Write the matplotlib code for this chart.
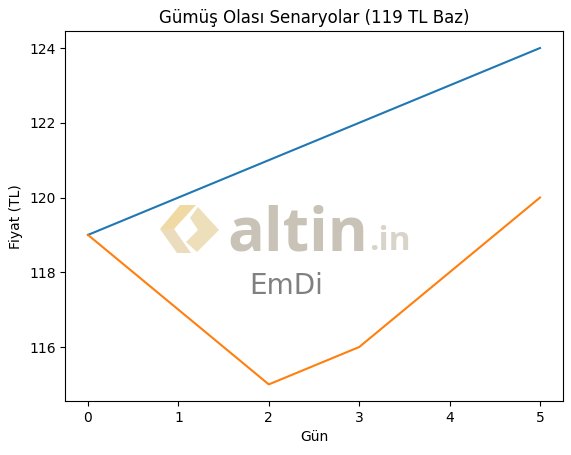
import matplotlib
matplotlib.use("Agg")
import matplotlib.pyplot as plt
from matplotlib.patches import Polygon

# Senaryo verileri
gunler = [0, 1, 2, 3, 4, 5]
yukselis = [119, 120, 121, 122, 123, 124]
dusus_toparlanma = [119, 117, 115, 116, 118, 120]

fig = plt.figure(figsize=(5.71, 4.55), dpi=100)
ax = fig.add_axes([0.1145, 0.1182, 0.8708, 0.8132])

ax.plot(gunler, yukselis)
ax.plot(gunler, dusus_toparlanma)
ax.set_title("Gümüş Olası Senaryolar (119 TL Baz)")
ax.set_xlabel("Gün")
ax.set_ylabel("Fiyat (TL)")

# altin.in filigranı
W, H = 571, 455
fig.text(227 / W, 1 - 250 / H, "altin", fontsize=44, fontweight="bold",
         family="Open Sans", color="#c9c3b7", ha="left", va="baseline")
fig.text(369 / W, 1 - 250 / H, ".in", fontsize=24, fontweight="bold",
         family="Open Sans", color="#d9d4ca", ha="left", va="baseline")

def px(pts):
    return [(x / W, 1 - y / H) for x, y in pts]

logo = [
    ([(180, 205), (196, 205), (174, 229), (160, 229)], "#f1d9a3"),
    ([(160, 229), (174, 229), (191, 253), (177, 253)], "#eadcbd"),
    ([(198, 207), (219, 230), (197, 252), (186, 242), (198, 230), (190, 218)], "#eedfbb"),
]
for pts, c in logo:
    fig.patches.append(Polygon(px(pts), closed=True, transform=fig.transFigure,
                               color=c, lw=0))
fig.text(249 / W, 1 - 294 / H, "EmDi", fontsize=20, color="#808080",
         ha="left", va="baseline")

fig.savefig("out.png", dpi=100)
